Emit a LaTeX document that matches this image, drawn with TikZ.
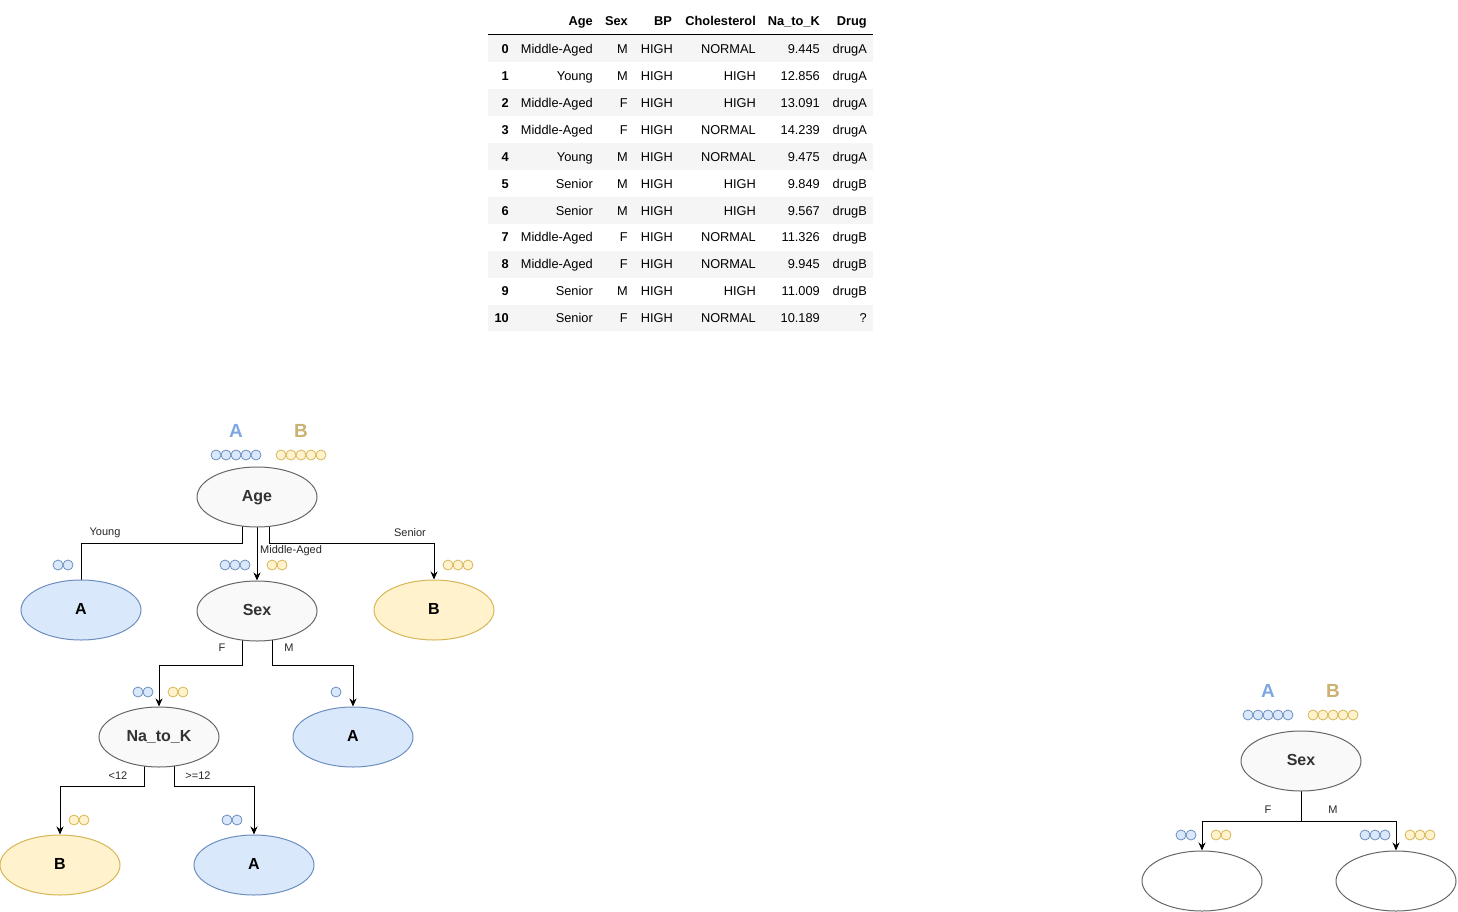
\documentclass[tikz,border=0pt]{standalone}
\usepackage{fontspec}
\setmainfont{Liberation Sans}
\usetikzlibrary{arrows.meta, positioning, shapes.geometric, backgrounds}

\definecolor{blueFill}{HTML}{DAE8FC}
\definecolor{blueLine}{HTML}{6C8EBF}
\definecolor{yellowFill}{HTML}{FFF2CC}
\definecolor{yellowLine}{HTML}{D6B656}
\definecolor{classA}{HTML}{7EA6E0}
\definecolor{classB}{HTML}{CBB272}
\definecolor{nodeFill}{HTML}{F9F9F9}
\definecolor{nodeLine}{HTML}{666666}
\definecolor{rowShade}{HTML}{F5F5F5}

\tikzset{
  split/.style={ellipse, draw=nodeLine, fill=nodeFill, line width=1pt, minimum width=120pt, minimum height=60pt, inner sep=0pt, text height=11.5pt, text depth=3.5pt, font=\fontsize{16}{18}\selectfont\bfseries, text=black!80},
  leafA/.style={split, draw=blueLine, fill=blueFill, text=black},
  leafB/.style={split, draw=yellowLine, fill=yellowFill, text=black},
  blankleaf/.style={split, fill=white},
  dotA/.style={draw=blueLine, fill=blueFill, line width=0.8pt},
  dotB/.style={draw=yellowLine, fill=yellowFill, line width=0.8pt},
  classlabel/.style={font=\fontsize{19}{21}\selectfont\bfseries},
  lab/.style={font=\fontsize{11}{13}\selectfont, text=black!85, inner sep=0pt},
  cell/.style={anchor=base east, inner sep=0pt, font=\fontsize{12.8}{15}\selectfont},
  headcell/.style={cell, font=\fontsize{12.8}{15}\selectfont\bfseries},
  link/.style={line width=1pt},
  arr/.style={link, -{Stealth[length=8pt, width=7pt]}}
}

% row of small class circles: x of first centre, y, count, style
\newcommand\dotrow[4]{\foreach \k in {1,...,#3} \draw[#4] ({#1+10*(\k-1)}, #2) circle (5pt);}

\begin{document}
\begin{tikzpicture}[x=1pt, y=-1pt]
\useasboundingbox (0,0) rectangle (1458,912);

% Data table
\foreach \i in {0,2,...,10} \fill[rowShade] (488, {35.5+26.9*\i}) rectangle (873, {35.5+26.9*(\i+1)});
\draw[line width=1pt] (488,35) -- (873,35);
\node[headcell] (h-age) at (593,25.6) {Age};
\node[headcell] (h-sex) at (628,25.6) {Sex};
\node[headcell] (h-bp) at (672,25.6) {BP};
\node[headcell] (h-chol) at (756,25.6) {Cholesterol};
\node[headcell] (h-nak) at (820,25.6) {Na\_to\_K};
\node[headcell] (h-drug) at (867,25.6) {Drug};
\foreach \i/\age/\sex/\chol/\nak/\drug in {
  0/Middle-Aged/M/NORMAL/9.445/drugA,
  1/Young/M/HIGH/12.856/drugA,
  2/Middle-Aged/F/HIGH/13.091/drugA,
  3/Middle-Aged/F/NORMAL/14.239/drugA,
  4/Young/M/NORMAL/9.475/drugA,
  5/Senior/M/HIGH/9.849/drugB,
  6/Senior/M/HIGH/9.567/drugB,
  7/Middle-Aged/F/NORMAL/11.326/drugB,
  8/Middle-Aged/F/NORMAL/9.945/drugB,
  9/Senior/M/HIGH/11.009/drugB,
  10/Senior/F/NORMAL/10.189/?}{
  \node[headcell] (c\i-idx) at (509, {53.6+26.9*\i}) {\i};
  \node[cell] (c\i-age) at (593, {53.6+26.9*\i}) {\age};
  \node[cell] (c\i-sex) at (628, {53.6+26.9*\i}) {\sex};
  \node[cell] (c\i-bp) at (673, {53.6+26.9*\i}) {HIGH};
  \node[cell] (c\i-chol) at (756, {53.6+26.9*\i}) {\chol};
  \node[cell] (c\i-nak) at (820, {53.6+26.9*\i}) {\nak};
  \node[cell] (c\i-drug) at (867, {53.6+26.9*\i}) {\drug};
}

% Full tree
\node[classlabel, text=classA] (topA) at (236,431) {A};
\node[classlabel, text=classB] (topB) at (301,431) {B};
\dotrow{216}{455}{5}{dotA}
\dotrow{281}{455}{5}{dotB}
\node[split] (age) at (257,497) {Age};

\node[leafA] (young) at (81,610) {A};
\node[split, below=53pt of age] (sex) {Sex};
\node[leafB] (senior) at (434,610) {B};
\dotrow{58}{565}{2}{dotA}
\dotrow{225}{565}{3}{dotA}
\dotrow{272}{565}{2}{dotB}
\dotrow{448}{565}{3}{dotB}

\node[split] (natok) at (159,737) {Na\_to\_K};
\node[leafA] (male) at (353,737) {A};
\dotrow{138}{692}{2}{dotA}
\dotrow{173}{692}{2}{dotB}
\dotrow{336}{692}{1}{dotA}

\node[leafB] (low) at (60,865) {B};
\node[leafA] (high) at (254,865) {A};
\dotrow{74}{820}{2}{dotB}
\dotrow{227}{820}{2}{dotA}

\begin{scope}[on background layer]
\draw[link] ([xshift=-15pt]age.center) -- ++(0,46) -| (young.north);
\draw[arr] (age.center) -- (sex.north);
\draw[arr] ([xshift=12pt]age.center) -- ++(0,46) -| (senior.north);
\draw[arr] ([xshift=-15pt]sex.center) -- ++(0,54) -| (natok.north);
\draw[arr] ([xshift=15pt]sex.center) -- ++(0,54) -| (male.north);
\draw[arr] ([xshift=-15pt]natok.center) -- ++(0,49) -| (low.north);
\draw[arr] ([xshift=15pt]natok.center) -- ++(0,49) -| (high.north);
\end{scope}

\node[lab] (l-young) at (105,533) {Young};
\node[lab, anchor=west] (l-middle) at (260,551) {Middle-Aged};
\node[lab] (l-senior) at (410,533) {Senior};
\node[lab] (l-f) at (222,648) {F};
\node[lab] (l-m) at (289,648) {M};
\node[lab] (l-low) at (118,776) {<12};
\node[lab] (l-high) at (198,776) {>=12};

% First split only
\node[classlabel, text=classA] (rootA) at (1268,691) {A};
\node[classlabel, text=classB] (rootB) at (1333,691) {B};
\dotrow{1248}{715}{5}{dotA}
\dotrow{1313}{715}{5}{dotB}
\node[split] (sexroot) at (1301,761) {Sex};
\node[blankleaf] (fem) at (1202,881) {};
\node[blankleaf] (mal) at (1396,881) {};
\dotrow{1181}{835}{2}{dotA}
\dotrow{1216}{835}{2}{dotB}
\dotrow{1365}{835}{3}{dotA}
\dotrow{1410}{835}{3}{dotB}
\begin{scope}[on background layer]
\draw[arr] (sexroot.center) -- ++(0,60) -| (fem.north);
\draw[arr] (sexroot.center) -- ++(0,60) -| (mal.north);
\end{scope}
\node[lab] (r-f) at (1268,810) {F};
\node[lab] (r-m) at (1333,810) {M};
\end{tikzpicture}
\end{document}
